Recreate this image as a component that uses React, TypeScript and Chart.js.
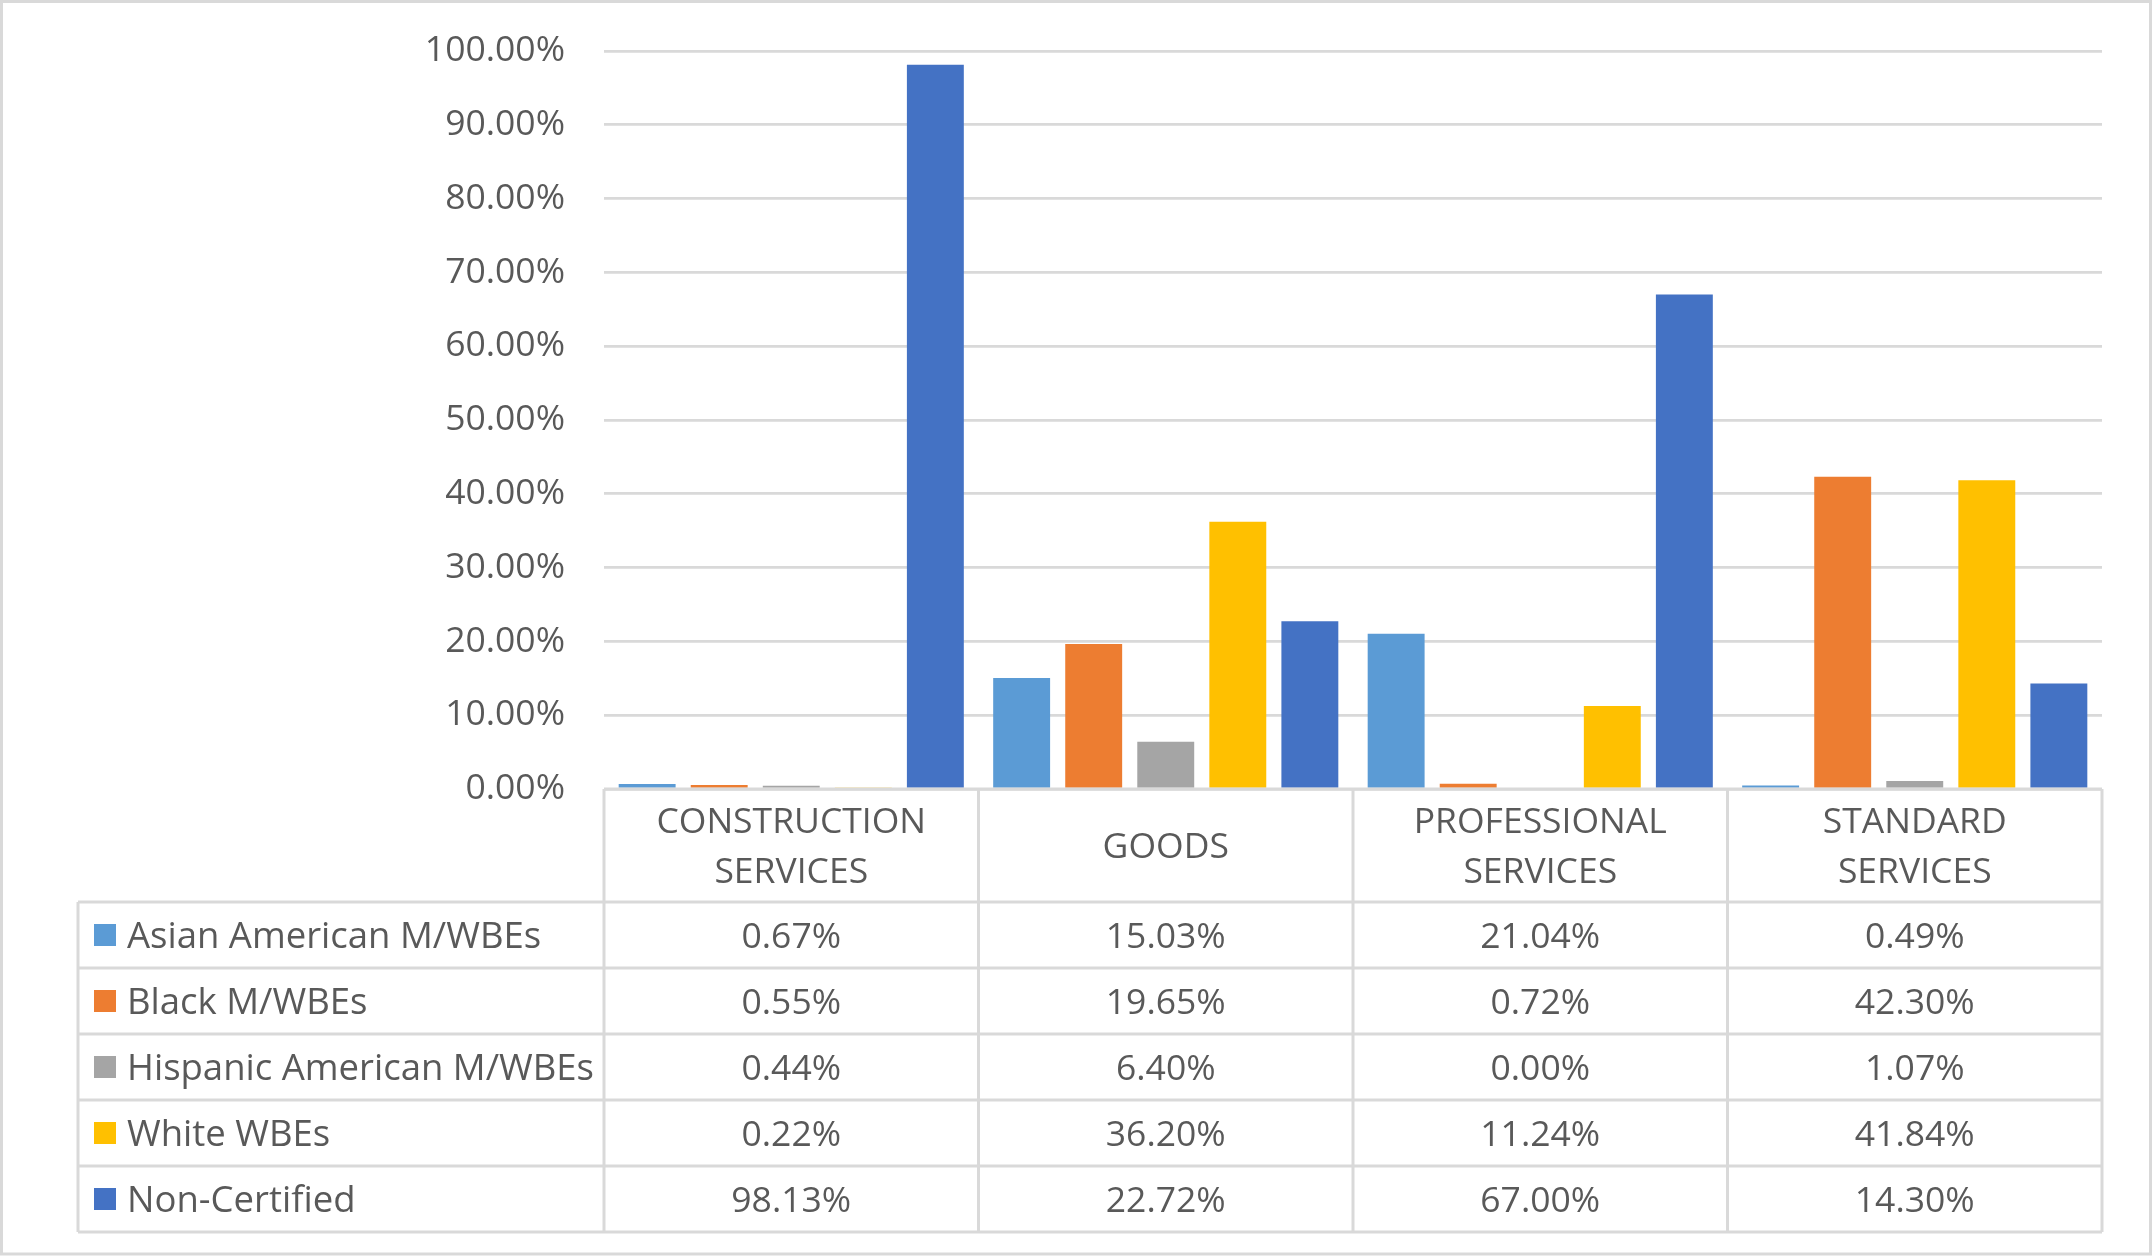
import React, { useEffect, useRef } from 'react';
import { Chart, registerables } from 'chart.js';

Chart.register(...registerables);

const categories: string[][] = [
  ['CONSTRUCTION', 'SERVICES'],
  ['GOODS'],
  ['PROFESSIONAL', 'SERVICES'],
  ['STANDARD', 'SERVICES'],
];
const seriesNames = [
  'Asian American M/WBEs',
  'Black M/WBEs',
  'Hispanic American M/WBEs',
  'White WBEs',
  'Non-Certified',
];
const asianAmerican = [0.67, 15.03, 21.04, 0.49];
const black = [0.55, 19.65, 0.72, 42.3];
const hispanicAmerican = [0.44, 6.4, 0.0, 1.07];
const whiteWBEs = [0.22, 36.2, 11.24, 41.84];
const nonCertified = [98.13, 22.72, 67.0, 14.3];
const seriesValues = [asianAmerican, black, hispanicAmerican, whiteWBEs, nonCertified];
const seriesColors = ['#5B9BD5', '#ED7D31', '#A5A5A5', '#FFC000', '#4472C4'];
const yTickMax = 100;
const yTickStep = 10;

const FONT = '"Open Sans", "Noto Sans", sans-serif';
const TEXT = '#595959';
const LINE = '#D9D9D9';
const FS = 35.5;
const LEGEND_FS = 36.5;

export default function App() {
  const ref = useRef<HTMLCanvasElement>(null);

  useEffect(() => {
    document.body.style.margin = '0';
    const canvas = ref.current;
    if (!canvas) return;

    const tablePlugin = {
      id: 'dataTable',
      afterDraw(chart: any) {
        const ctx = chart.ctx as CanvasRenderingContext2D;
        const area = chart.chartArea;
        const xs = chart.scales.x;
        const n = categories.length;
        const colW = (area.right - area.left) / n;
        const bounds: number[] = [];
        for (let i = 0; i < n; i++) bounds.push(xs.getPixelForValue(i) - colW / 2);
        bounds.push(xs.getPixelForValue(n - 1) + colW / 2);

        const headTop = area.bottom;
        const headBottom = 902;
        const rowH = 66;
        const legendLeft = 78;
        const tableBottom = headBottom + rowH * seriesNames.length;
        const capH = FS * 0.714;

        ctx.save();
        ctx.strokeStyle = LINE;
        ctx.lineWidth = 3;
        ctx.beginPath();
        ctx.moveTo(bounds[0], headTop);
        ctx.lineTo(bounds[n], headTop);
        for (let i = 0; i <= n; i++) {
          ctx.moveTo(bounds[i], headTop);
          ctx.lineTo(bounds[i], tableBottom);
        }
        ctx.moveTo(legendLeft, headBottom);
        ctx.lineTo(legendLeft, tableBottom);
        for (let r = 0; r <= seriesNames.length; r++) {
          const y = headBottom + r * rowH;
          ctx.moveTo(legendLeft, y);
          ctx.lineTo(bounds[n], y);
        }
        ctx.stroke();

        ctx.strokeRect(1.5, 1.5, chart.width - 5, chart.height - 4.5);

        ctx.fillStyle = TEXT;
        ctx.font = `${FS}px ${FONT}`;
        ctx.textBaseline = 'alphabetic';
        ctx.textAlign = 'center';
        const headMid = (headTop + headBottom) / 2;
        const lineGap = 50;
        categories.forEach((lines, i) => {
          const cx = (bounds[i] + bounds[i + 1]) / 2;
          const start = headMid - ((lines.length - 1) * lineGap) / 2;
          lines.forEach((ln, k) => {
            ctx.fillText(ln, cx, start + k * lineGap + capH / 2);
          });
        });

        seriesNames.forEach((name, r) => {
          const mid = headBottom + r * rowH + rowH / 2;
          const base = mid + capH / 2;
          ctx.fillStyle = seriesColors[r];
          ctx.fillRect(94, mid - 11, 22, 22);
          ctx.fillStyle = TEXT;
          ctx.textAlign = 'left';
          ctx.font = `${LEGEND_FS}px ${FONT}`;
          ctx.fillText(name, 127, base);
          ctx.font = `${FS}px ${FONT}`;
          ctx.textAlign = 'center';
          seriesValues[r].forEach((v, i) => {
            const cx = (bounds[i] + bounds[i + 1]) / 2;
            ctx.fillText(v.toFixed(2) + '%', cx, base);
          });
        });
        ctx.restore();
      },
    };

    const chart = new Chart(canvas, {
      type: 'bar',
      data: {
        labels: categories.map((c) => c.join(' ')),
        datasets: seriesNames.map((name, i) => ({
          label: name,
          data: seriesValues[i],
          backgroundColor: seriesColors[i],
          borderWidth: 0,
          barPercentage: 0.79,
          categoryPercentage: 0.962,
        })),
      },
      options: {
        responsive: false,
        animation: false,
        devicePixelRatio: 1,
        layout: { padding: { left: 0, top: 51, right: 52, bottom: 468 } },
        plugins: {
          legend: { display: false },
          tooltip: { enabled: false },
        },
        scales: {
          x: {
            display: false,
          },
          y: {
            min: 0,
            max: yTickMax,
            afterFit: (s: any) => {
              s.width = 604;
              s.paddingTop = 0;
              s.paddingBottom = 0;
            },
            ticks: {
              stepSize: yTickStep,
              padding: 39,
              color: TEXT,
              font: { family: FONT, size: FS },
              callback: (v: any) => Number(v).toFixed(2) + '%',
            },
            border: { display: false },
            grid: { color: LINE, lineWidth: 2.75, drawTicks: false },
          },
        },
      },
      plugins: [tablePlugin],
    });

    return () => chart.destroy();
  }, []);

  return (
    <canvas
      ref={ref}
      width={2154}
      height={1257}
      style={{ display: 'block', width: 2154, height: 1257 }}
    />
  );
}
